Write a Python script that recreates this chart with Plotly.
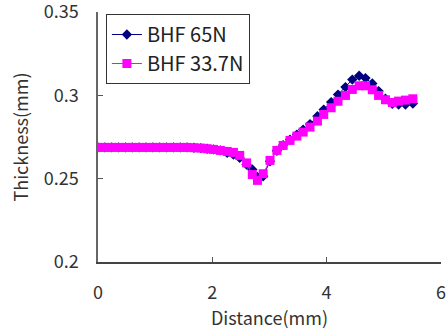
import plotly.graph_objects as go

distance = [0, 0.12, 0.24, 0.36, 0.48, 0.60, 0.72, 0.84, 0.96, 1.08, 1.20, 1.32, 1.44, 1.56,
            1.68, 1.80, 1.91, 2.02, 2.14, 2.26, 2.37, 2.48, 2.60, 2.70, 2.79, 2.89, 3.01, 3.13,
            3.24, 3.36, 3.48, 3.59, 3.71, 3.84, 3.95, 4.08, 4.20, 4.33, 4.45, 4.57, 4.68, 4.80,
            4.91, 5.03, 5.15, 5.26, 5.38, 5.51]

bhf_65 = [0.2688] * 14 + [0.2686, 0.2684, 0.2680, 0.2676, 0.2670, 0.2655, 0.2645, 0.2625,
                          0.2585, 0.2555, 0.2510, 0.2515, 0.2605, 0.2668, 0.2702, 0.2735,
                          0.2765, 0.2795, 0.2828, 0.2875, 0.2915, 0.2960, 0.3005, 0.3050,
                          0.3095, 0.3118, 0.3104, 0.3072, 0.3026, 0.2980, 0.2950, 0.2945,
                          0.2945, 0.2952]

bhf_337 = [0.2688] * 14 + [0.2686, 0.2684, 0.2680, 0.2676, 0.2670, 0.2664, 0.2658, 0.2640,
                           0.2595, 0.2525, 0.2490, 0.2530, 0.2610, 0.2670, 0.2700, 0.2730,
                           0.2756, 0.2780, 0.2810, 0.2846, 0.2886, 0.2926, 0.2965, 0.3000,
                           0.3036, 0.3058, 0.3058, 0.3034, 0.3000, 0.2974, 0.2958, 0.2966,
                           0.2972, 0.2980]

x_ticks = [0, 2, 4, 6]
y_ticks = [0.2, 0.25, 0.3, 0.35]
y_tick_labels = ["0.2", "0.25", "0.3", "0.35"]

font_family = "Noto Sans CJK KR, Liberation Sans, Arial, sans-serif"

fig = go.Figure()
fig.add_trace(go.Scatter(
    x=distance, y=bhf_65, name="BHF 65N", mode="lines+markers",
    line=dict(color="#000080", width=1),
    marker=dict(symbol="diamond", size=8, color="#000080"),
))
fig.add_trace(go.Scatter(
    x=distance, y=bhf_337, name="BHF 33.7N", mode="lines+markers",
    line=dict(color="#FF00FF", width=1),
    marker=dict(symbol="square", size=9, color="#FF00FF"),
))

fig.update_layout(
    width=447, height=331,
    margin=dict(l=98, r=6, t=12, b=69),
    paper_bgcolor="white", plot_bgcolor="white",
    font=dict(family=font_family, size=18, color="#333333"),
    showlegend=True,
    legend=dict(
        x=0.023, y=0.992, xanchor="left", yanchor="top",
        bordercolor="#333333", borderwidth=1, bgcolor="white",
        font=dict(size=20, color="#222222"),
        tracegroupgap=0, itemwidth=30,
    ),
    xaxis=dict(
        range=[0, 6.002], tickvals=x_ticks, ticktext=[str(v) for v in x_ticks],
        ticks="inside", ticklen=5, tickcolor="#555555",
        showline=True, linecolor="#444444", linewidth=1.5,
        showgrid=False, zeroline=False, ticklabelstandoff=14, automargin=False,
        ticklabeloverflow="allow",
        title=dict(text="Distance(mm)", font=dict(size=18), standoff=2),
    ),
    yaxis=dict(
        range=[0.2, 0.3501], tickvals=y_ticks, ticktext=y_tick_labels,
        ticks="inside", ticklen=5, tickcolor="#555555",
        showline=True, linecolor="#666666", linewidth=1.5,
        showgrid=False, zeroline=False, ticklabelstandoff=14, automargin=False,
        ticklabeloverflow="allow",
        title=dict(text="Thickness(mm)", font=dict(size=18), standoff=10),
    ),
)

fig.write_html(
    "out.html",
    config={"displayModeBar": False},
    post_script="document.body.style.margin='0';document.body.style.overflow='hidden';",
)
